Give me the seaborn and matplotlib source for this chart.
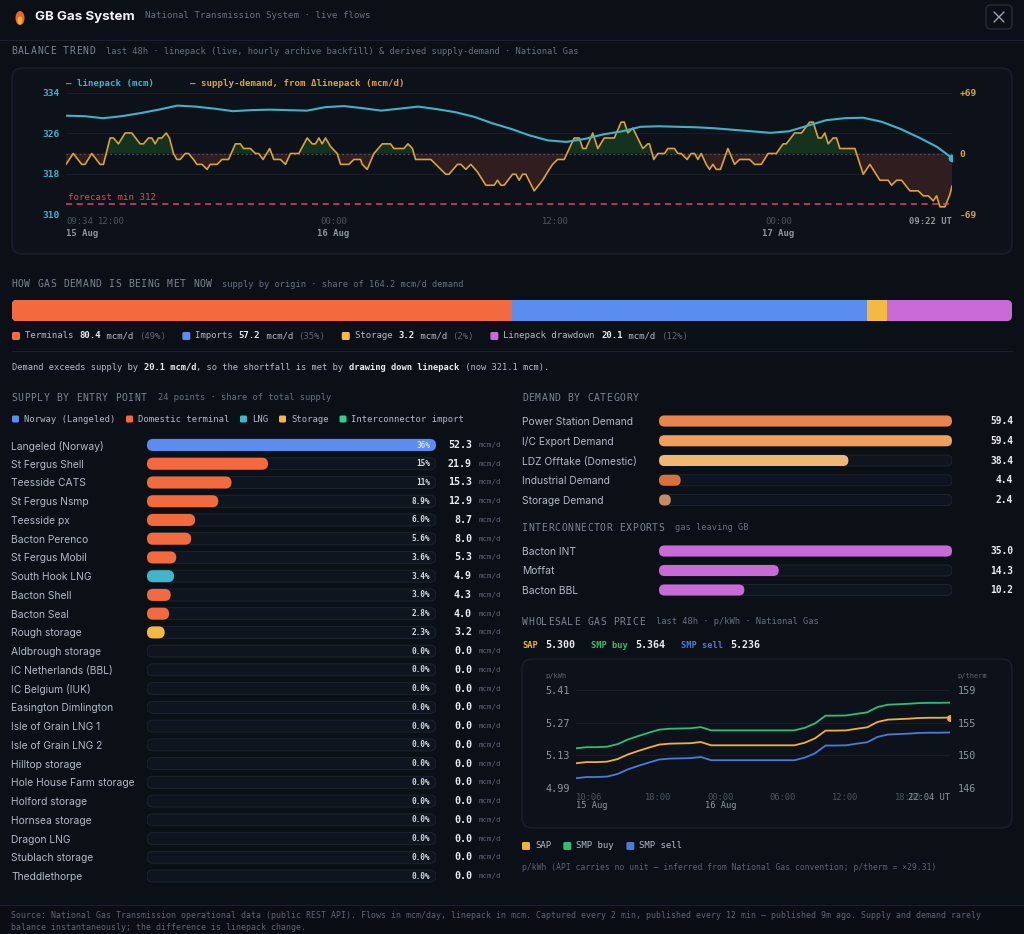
import numpy as np
import pandas as pd
import seaborn as sns
import matplotlib.pyplot as plt
import matplotlib.transforms as mtransforms
from matplotlib.patches import FancyBboxPatch, Rectangle, Ellipse
from matplotlib.lines import Line2D

# ---------------- data ----------------
# balance trend, hours after 09:34 15 Aug
lp_hours = [0, 1, 2, 3, 4, 5, 6, 7, 8, 9, 10, 11, 12, 13, 14, 15, 16, 17, 18, 19,
            20, 21, 22, 23, 24, 25, 26, 27, 28, 29, 30, 31, 32, 33, 34, 35, 36, 37, 38, 39,
            40, 41, 42, 43, 44, 45, 46, 47, 47.8]
linepack = [329.5, 329.4, 329.0, 329.4, 330.0, 330.7, 331.5, 331.3, 330.9, 330.4,
            330.6, 330.7, 330.6, 330.5, 331.2, 331.4, 331.0, 330.5, 330.9, 331.3,
            330.8, 330.2, 329.3, 328.0, 326.9, 325.6, 324.6, 324.3, 324.9, 325.8,
            326.4, 327.3, 327.4, 327.3, 327.2, 327.0, 326.7, 326.4, 326.1, 326.4,
            327.5, 328.6, 329.0, 329.1, 328.3, 326.9, 325.2, 323.3, 321.1]
sd_hours = [0.0, 0.39, 0.85, 1.03, 1.39, 1.84, 2.02, 2.38, 2.56, 2.83,
            3.19, 3.55, 4.0, 4.18, 4.45, 4.63, 4.81, 4.99, 5.17, 5.41,
            5.58, 5.8, 5.98, 6.16, 6.43, 6.61, 6.88, 7.06, 7.34, 7.61,
            7.78, 8.15, 8.42, 8.77, 9.14, 9.41, 9.58, 9.95, 10.22, 10.39,
            10.63, 10.99, 11.21, 11.57, 11.84, 12.11, 12.56, 13.01, 13.28, 13.46,
            13.64, 13.82, 14.0, 14.27, 14.63, 14.81, 15.26, 15.53, 15.89, 15.98,
            16.25, 16.61, 17.06, 17.51, 17.69, 18.23, 18.45, 18.69, 18.86, 19.68,
            19.95, 20.22, 20.49, 20.66, 21.12, 21.3, 21.57, 21.84, 22.2, 22.65,
            23.1, 23.28, 23.46, 23.64, 24.09, 24.27, 24.45, 24.63, 24.81, 25.26,
            25.71, 26.07, 26.25, 26.52, 26.88, 27.15, 27.42, 27.69, 27.88, 28.05,
            28.42, 28.69, 29.04, 29.58, 29.95, 30.12, 30.31, 30.58, 31.12, 31.39,
            31.48, 31.71, 31.93, 32.29, 32.47, 32.83, 33.01, 33.19, 33.51, 33.73,
            33.91, 34.09, 34.27, 34.54, 34.72, 34.9, 35.08, 35.31, 35.71, 36.07,
            36.34, 36.88, 37.15, 37.51, 37.88, 38.32, 38.69, 38.86, 39.31, 39.68,
            40.12, 40.31, 40.58, 40.76, 40.94, 41.12, 41.39, 41.57, 41.75, 42.56,
            43.01, 43.37, 43.91, 44.36, 44.54, 44.81, 45.08, 45.53, 45.98, 46.25,
            46.52, 46.79, 46.97, 47.15, 47.42, 47.69, 47.8]
sd_flow = [-12.4, 0, -12.4, -12.4, 0, -12.4, -12.4, 17.7, 17.7, 11,
           23.4, 23.4, 11, 11, 17.7, 17.7, 11, 17.7, 17.7, 23.4,
           17.7, 0, -6.8, -6.8, 0, 0, -6.8, -12.4, -12.4, -18.1,
           -12.4, -12.4, -6.8, -6.8, 11, 11, 5.7, 5.7, 0, 0,
           -6.8, 5.7, -6.8, -6.8, -12.4, 0, 0, 17.7, 11, 11,
           17.7, 11, 17.7, 8, 0, -12.4, -12.4, -6.8, -6.8, -12.4,
           -18.1, 0, 11, 11, 5.7, 5.7, 11, 5.7, -6.8, -6.8,
           -12.4, -18.1, -23.7, -23.7, -12.4, -12.4, -18.1, -12.4, -21, -36.2,
           -36.2, -30.5, -36.2, -36.2, -23.7, -23.7, -30.5, -23.7, -23.7, -42.6,
           -30.5, -18.1, -12.4, -6.8, -6.8, 5.7, 17.7, 17.7, 5.7, 5.7,
           23.4, 5.7, 17.7, 17.7, 35.8, 35.8, 23.4, 29, 5.7, 11,
           11, -6.8, 0, 0, 5.7, 5.7, 0, 0, -6.8, 0,
           0, -6.8, 0, -12.4, -18.1, -12.4, -18.1, -18.1, 5.7, -12.4,
           -6.8, -6.8, -12.4, -12.4, 0, 0, 11, 11, 23.4, 23.4,
           35.8, 35.8, 17.7, 17.7, 23.4, 11, 17.7, 17.7, 5.7, 5.7,
           -23.7, -12.4, -30.5, -30.5, -36.2, -30.5, -30.5, -42.6, -42.6, -48.3,
           -48.3, -54, -48.3, -60.8, -60.8, -46.6, -37]
forecast_min = 312
bal_tick_hours = [0, 2.43, 14.43, 26.43, 38.43, 47.8]
bal_tick_time = ["09:34", "12:00", "00:00", "12:00", "00:00", "09:22 UT"]
bal_tick_date = ["15 Aug", "", "16 Aug", "", "17 Aug", ""]

# how demand is being met
origin_names = ["Terminals", "Imports", "Storage", "Linepack drawdown"]
origin_flow = [80.4, 57.2, 3.2, 20.1]
origin_share = ["49%", "35%", "2%", "12%"]
demand_total = 164.2

# supply by entry point
entry_points = ["Langeled (Norway)", "St Fergus Shell", "Teesside CATS", "St Fergus Nsmp",
                "Teesside px", "Bacton Perenco", "St Fergus Mobil", "South Hook LNG",
                "Bacton Shell", "Bacton Seal", "Rough storage", "Aldbrough storage",
                "IC Netherlands (BBL)", "IC Belgium (IUK)", "Easington Dimlington",
                "Isle of Grain LNG 1", "Isle of Grain LNG 2", "Hilltop storage",
                "Hole House Farm storage", "Holford storage", "Hornsea storage",
                "Dragon LNG", "Stublach storage", "Theddlethorpe"]
entry_flow = [52.3, 21.9, 15.3, 12.9, 8.7, 8.0, 5.3, 4.9, 4.3, 4.0, 3.2, 0.0,
              0.0, 0.0, 0.0, 0.0, 0.0, 0.0, 0.0, 0.0, 0.0, 0.0, 0.0, 0.0]
entry_share = ["36%", "15%", "11%", "8.9%", "6.0%", "5.6%", "3.6%", "3.4%", "3.0%",
               "2.8%", "2.3%", "0.0%", "0.0%", "0.0%", "0.0%", "0.0%", "0.0%", "0.0%",
               "0.0%", "0.0%", "0.0%", "0.0%", "0.0%", "0.0%"]
entry_type = ["Norway (Langeled)", "Domestic terminal", "Domestic terminal", "Domestic terminal",
              "Domestic terminal", "Domestic terminal", "Domestic terminal", "LNG",
              "Domestic terminal", "Domestic terminal", "Storage", "Storage",
              "Interconnector import", "Interconnector import", "Domestic terminal",
              "LNG", "LNG", "Storage", "Storage", "Storage", "Storage", "LNG", "Storage",
              "Domestic terminal"]
supply_types = ["Norway (Langeled)", "Domestic terminal", "LNG", "Storage", "Interconnector import"]

# demand
demand_cats = ["Power Station Demand", "I/C Export Demand", "LDZ Offtake (Domestic)",
               "Industrial Demand", "Storage Demand"]
demand_flow = [59.4, 59.4, 38.4, 4.4, 2.4]
export_points = ["Bacton INT", "Moffat", "Bacton BBL"]
export_flow = [35.0, 14.3, 10.2]

# wholesale price, hours after 10:06 15 Aug
price_hours = [0, 1, 2, 3, 4, 5, 6, 7, 8, 9, 10, 11, 12, 13, 14, 15, 16, 17, 18, 19,
               20, 21, 22, 23, 24, 25, 26, 27, 28, 29, 30, 31, 32, 33, 34, 35, 35.97]
sap = [5.096, 5.101, 5.101, 5.103, 5.114, 5.134, 5.149, 5.163, 5.176, 5.180,
       5.181, 5.182, 5.187, 5.173, 5.173, 5.173, 5.173, 5.173, 5.173, 5.173,
       5.173, 5.173, 5.184, 5.203, 5.236, 5.236, 5.237, 5.244, 5.250, 5.273,
       5.283, 5.285, 5.287, 5.290, 5.291, 5.291, 5.292]
smp_buy = [5.160, 5.165, 5.165, 5.167, 5.178, 5.198, 5.213, 5.227, 5.240, 5.244,
           5.245, 5.246, 5.251, 5.237, 5.237, 5.237, 5.237, 5.237, 5.237, 5.237,
           5.237, 5.237, 5.248, 5.267, 5.300, 5.300, 5.301, 5.308, 5.314, 5.337,
           5.347, 5.349, 5.351, 5.354, 5.355, 5.355, 5.356]
smp_sell = [5.032, 5.037, 5.037, 5.039, 5.050, 5.070, 5.085, 5.099, 5.112, 5.116,
            5.117, 5.118, 5.123, 5.109, 5.109, 5.109, 5.109, 5.109, 5.109, 5.109,
            5.109, 5.109, 5.120, 5.139, 5.172, 5.172, 5.173, 5.180, 5.186, 5.209,
            5.219, 5.221, 5.223, 5.226, 5.227, 5.227, 5.228]
price_names = ["SAP", "SMP buy", "SMP sell"]
price_now = [5.300, 5.364, 5.236]
price_ticks = [4.99, 5.13, 5.27, 5.41]
price_therm_labels = ["146", "150", "155", "159"]
price_tick_hours = [0, 7.9, 13.9, 19.9, 25.9, 31.9, 35.97]
price_tick_time = ["10:06", "18:00", "00:00", "06:00", "12:00", "18:00", "22:04 UT"]
price_tick_date = ["15 Aug", "", "16 Aug", "", "", "", ""]

# ---------------- colours ----------------
BG = "#0b0f16"
CARD = "#0d121a"
CARD_EC = "#1d2531"
LINE = "#1a212c"
GRID = "#161d27"
TRACK = "#0f151e"
TRACK_EC = "#1b2430"
TXT = "#b3bbc6"
HEAD = "#7c8592"
SUB = "#687180"
DIM = "#5d6573"
DIMMER = "#4c5461"
DATE = "#8d95a1"
WHITE = "#e8ebef"
TEAL = "#3db3c9"
GOLD = "#d9a23a"
RED = "#d94a5c"
ORANGE = "#f26a3d"
BLUE = "#5b8def"
YELLOW = "#f4b942"
PURPLE = "#c96ad6"
type_colors = {"Norway (Langeled)": BLUE, "Domestic terminal": ORANGE, "LNG": "#3fb7c9",
               "Storage": YELLOW, "Interconnector import": "#2fd08a"}
origin_colors = [ORANGE, BLUE, YELLOW, PURPLE]
demand_colors = ["#ea844d", "#eea062", "#f1b873", "#da703b", "#c98b67"]
price_colors = ["#f0b03a", "#2dbf73", "#4b7bd6"]

sns.set_theme(style="dark")
plt.rcParams["font.family"] = ["DejaVu Sans Mono", "DejaVu Sans"]
SANS = ["Inter", "DejaVu Sans"]

W, H = 1024, 934
fig = plt.figure(figsize=(W / 100, H / 100), dpi=100, facecolor=BG)


def fx(x):
    return x / W


def fy(y):
    return 1 - y / H


def put(x, y, s, size=6.4, color=TXT, weight="normal", ha="left", family=None):
    kw = {"family": family} if family else {}
    return fig.text(fx(x), fy(y), s, size=size, color=color, weight=weight,
                    ha=ha, va="center", **kw)


def cw(size):
    # advance of one DejaVu Sans Mono glyph in pixels
    return 0.6021 * size * 100 / 72


def put_runs(x, y, parts, size=6.4):
    for s, color, weight in parts:
        put(x, y, s, size, color, weight)
        x += len(s) * cw(size)
    return x


def header(x, y, title, sub=None):
    step = 6.5
    for i, ch in enumerate(title):
        if ch != " ":
            put(x + i * step, y, ch, 7.0, HEAD)
    if sub:
        put(x + len(title) * step + 10, y, sub, 6.3, SUB)


def box(x0, y0, x1, y1, r, fc, ec="none", lw=0.8, z=-1):
    fig.add_artist(FancyBboxPatch((fx(x0), fy(y1)), fx(x1) - fx(x0), fy(y0) - fy(y1),
                                  boxstyle=f"round,pad=0,rounding_size={r / W}",
                                  mutation_aspect=W / H, transform=fig.transFigure,
                                  fc=fc, ec=ec, lw=lw, zorder=z))


def hline(x0, x1, y, color=LINE, lw=0.8):
    fig.add_artist(Line2D([fx(x0), fx(x1)], [fy(y), fy(y)], color=color, lw=lw,
                          transform=fig.transFigure, zorder=-1))


def swatch(x, y, color, s=8):
    box(x, y - s / 2, x + s, y + s / 2, 1.5, color, z=2)


def clean(ax):
    ax.set_facecolor("none")
    ax.grid(False)
    ax.set(xlabel="", ylabel="")
    for sp in ax.spines.values():
        sp.set_visible(False)


def bar_panel(x0, x1, first_row, row_px, bar_px, names, values, colors, xmax, pad_px):
    n = len(names)
    top = first_row - row_px / 2
    ax = fig.add_axes([fx(x0), fy(top + n * row_px), (x1 - x0) / W, n * row_px / H])
    df = pd.DataFrame({"name": names, "value": values})
    sns.barplot(data=df, x="value", y="name", hue="name", palette=colors, legend=False,
                width=bar_px / row_px, errorbar=None, saturation=1, linewidth=0, ax=ax)
    clean(ax)
    ax.set_xlim(0, xmax)
    ax.set_ylim(n - 0.5, -0.5)
    ax.set_xticks([])
    px_x = (x1 - x0) / xmax
    ma = px_x / row_px
    rad = bar_px / 2
    # seaborn draws square bars: swap them for pill shapes
    for p in [p for p in ax.patches if isinstance(p, Rectangle)]:
        bx, by, bw, bh = p.get_x(), p.get_y(), p.get_width(), p.get_height()
        fc = p.get_facecolor()
        p.remove()
        if bw <= 0:
            continue
        r = min(rad, bw * px_x / 2)
        ax.add_patch(FancyBboxPatch((bx, by), bw, bh,
                                    boxstyle=f"round,pad=0,rounding_size={r / px_x}",
                                    mutation_aspect=ma, fc=fc, ec="none", zorder=3))
    hh = bar_px / row_px
    for i in range(n):
        ax.add_patch(FancyBboxPatch((0, i - hh / 2), xmax, hh,
                                    boxstyle=f"round,pad=0,rounding_size={rad / px_x}",
                                    mutation_aspect=ma, fc=TRACK, ec=TRACK_EC, lw=0.7,
                                    zorder=1))
    ax.tick_params(axis="y", length=0, pad=pad_px * 0.72, labelsize=7.4, labelcolor=TXT)
    for t in ax.get_yticklabels():
        t.set_ha("left")
        t.set_fontfamily(SANS)
    return ax


# ---------------- title bar ----------------
fig.add_artist(Ellipse((fx(20), fy(18)), 9 / W, 14 / H, fc="#f0632f", ec="none",
                       transform=fig.transFigure))
fig.add_artist(Ellipse((fx(20), fy(20.5)), 5 / W, 8 / H, fc="#f9b233", ec="none",
                       transform=fig.transFigure))
put(35, 17, "GB Gas System", 9.6, "#f2f4f7", "bold", family=SANS)
put(145, 16, "National Transmission System · live flows", 6.6, SUB)
box(986, 5, 1012, 29, 5, "none", "#2a3442")
fig.add_artist(Line2D([fx(994), fx(1004)], [fy(12), fy(22)], color="#9aa4b0", lw=1,
                      transform=fig.transFigure))
fig.add_artist(Line2D([fx(994), fx(1004)], [fy(22), fy(12)], color="#9aa4b0", lw=1,
                      transform=fig.transFigure))
hline(0, 1024, 40)

# ---------------- balance trend ----------------
header(11, 51, "BALANCE TREND",
       "last 48h · linepack (live, hourly archive backfill) & derived supply-demand · National Gas")
box(12, 68, 1012, 254, 10, CARD, CARD_EC)

ax_sd = fig.add_axes([fx(66), fy(214), (952 - 66) / W, (214 - 93) / H])
sd = pd.DataFrame({"hours": sd_hours, "flow": sd_flow})
for v in (-69, -23, 23, 69):
    ax_sd.axhline(v, color=GRID, lw=0.8, zorder=0)
ax_sd.fill_between(sd.hours, sd.flow, 0, where=sd.flow >= 0, interpolate=True,
                   color="#15321f", lw=0, zorder=1)
ax_sd.fill_between(sd.hours, sd.flow, 0, where=sd.flow <= 0, interpolate=True,
                   color="#2f1d1f", lw=0, zorder=1)
sns.lineplot(data=sd, x="hours", y="flow", ax=ax_sd, color=GOLD, lw=1.2,
             estimator=None, zorder=3)
ax_sd.axhline(0, color="#4a505b", lw=0.9, ls=(0, (1.5, 2)), zorder=2)
clean(ax_sd)
ax_sd.set_xlim(0, 47.8)
ax_sd.set_ylim(-69, 69)
ax_sd.set_xticks([])

ax_lp = ax_sd.twinx()
sns.lineplot(x=lp_hours, y=linepack, ax=ax_lp, color=TEAL, lw=1.5, estimator=None)
ax_lp.plot(lp_hours[-1], linepack[-1], "o", ms=4.5, color=TEAL)
ax_lp.axhline(forecast_min, color=RED, lw=1.1, ls=(0, (4, 3)))
ax_lp.text(0.1, forecast_min + 1.2, f"forecast min {forecast_min}", color=RED,
           size=6.6, va="center")
clean(ax_lp)
ax_lp.set_ylim(310, 334)
ax_lp.set_yticks([310, 318, 326, 334])
ax_lp.yaxis.tick_left()
ax_lp.tick_params(axis="y", length=0, pad=4.5, labelsize=6.8, labelcolor=TEAL)
for t in ax_lp.get_yticklabels():
    t.set_fontweight("bold")

# twinx moved the base axis ticks to the left, put supply-demand back on the right
ax_sd.yaxis.tick_right()
ax_sd.set_yticks([-69, 0, 69], ["-69", "0", "+69"])
ax_sd.tick_params(axis="y", length=0, pad=5.5, labelsize=6.8, labelcolor=GOLD)
for t in ax_sd.get_yticklabels():
    t.set_fontweight("bold")

tr = mtransforms.blended_transform_factory(ax_sd.transData, fig.transFigure)
for i, (h, t, d) in enumerate(zip(bal_tick_hours, bal_tick_time, bal_tick_date)):
    ha = "left" if i == 0 else ("right" if i == len(bal_tick_hours) - 1 else "center")
    last = i == len(bal_tick_hours) - 1
    ax_sd.text(h, fy(222), t, transform=tr, ha=ha, va="center", size=6.4,
               color=DATE if last else DIMMER, weight="bold" if last else "normal",
               clip_on=False)
    if d:
        ax_sd.text(h, fy(233), d, transform=tr, ha=ha, va="center", size=6.4,
                   color=DATE, weight="bold", clip_on=False)

put(66, 83, "– linepack (mcm)", 6.6, TEAL, "bold")
put(190, 83, "– supply-demand, from Δlinepack (mcm/d)", 6.6, GOLD, "bold")

# ---------------- how demand is being met ----------------
header(11, 284, "HOW GAS DEMAND IS BEING MET NOW",
       f"supply by origin · share of {demand_total} mcm/d demand")
ax_mix = fig.add_axes([fx(12), fy(321), 1000 / W, 21 / H])
mix = pd.DataFrame({"origin": origin_names, "flow": origin_flow})
mix["cum"] = mix["flow"].cumsum()
mix["row"] = "now"
total = mix["flow"].sum()
sns.barplot(data=mix, x="cum", y="row", hue="origin", hue_order=origin_names[::-1],
            palette=dict(zip(origin_names, origin_colors)), dodge=False, width=1.0,
            errorbar=None, legend=False, saturation=1, linewidth=0, ax=ax_mix)
clean(ax_mix)
ax_mix.set_xlim(0, total)
ax_mix.set_ylim(0.5, -0.5)
ax_mix.set_xticks([])
ax_mix.set_yticks([])
clip = FancyBboxPatch((0, -0.5), total, 1.0,
                      boxstyle=f"round,pad=0,rounding_size={5 * total / 1000}",
                      mutation_aspect=(1 / 21) / (total / 1000),
                      transform=ax_mix.transData, fc="none", ec="none")
for p in ax_mix.patches:
    p.set_edgecolor("none")
    p.set_clip_path(clip)

x = 12
for name, flow, share, col in zip(origin_names, origin_flow, origin_share, origin_colors):
    swatch(x, 336, col)
    x = put_runs(x + 13, 336, [(f"{name} ", TXT, "normal"), (f"{flow:.1f}", WHITE, "bold"),
                               (" mcm/d ", TXT, "normal"), (f"({share})", DIM, "normal")],
                 6.5) + 16

hline(12, 1012, 351)
put_runs(12, 367, [("Demand exceeds supply by ", TXT, "normal"),
                   (f"{origin_flow[3]:.1f} mcm/d", WHITE, "bold"),
                   (", so the shortfall is met by ", TXT, "normal"),
                   ("drawing down linepack", WHITE, "bold"),
                   (f" (now {linepack[-1]:.1f} mcm).", TXT, "normal")], 6.3)

# ---------------- supply by entry point ----------------
header(11, 398, "SUPPLY BY ENTRY POINT", f"{len(entry_points)} points · share of total supply")
x = 12
for st in supply_types:
    swatch(x, 419, type_colors[st], 7)
    put(x + 12, 419, st, 6.4, TXT)
    x += 12 + len(st) * cw(6.4) + 11

ax_sup = bar_panel(147, 436, 445, 18.74, 12, entry_points, entry_flow,
                   [type_colors[t] for t in entry_type], max(entry_flow), 136)
trs = mtransforms.blended_transform_factory(ax_sup.transAxes, ax_sup.transData)
for i, (v, s) in enumerate(zip(entry_flow, entry_share)):
    ax_sup.text(1 - 6 / 289, i, s, transform=trs, ha="right", va="center", size=5.6,
                weight="bold", color="#d5dae1", zorder=5)
    ax_sup.text((472 - 147) / 289, i, f"{v:.1f}", transform=trs, ha="right", va="center",
                size=7.2, weight="bold", color=WHITE, clip_on=False)
    ax_sup.text((479 - 147) / 289, i, "mcm/d", transform=trs, ha="left", va="center",
                size=5.3, color=DIM, clip_on=False)

# ---------------- demand by category ----------------
header(522, 398, "DEMAND BY CATEGORY")
ax_dem = bar_panel(659, 952, 421, 19.75, 11, demand_cats, demand_flow, demand_colors,
                   max(demand_flow), 137)
trd = mtransforms.blended_transform_factory(ax_dem.transAxes, ax_dem.transData)
for i, v in enumerate(demand_flow):
    ax_dem.text((1013 - 659) / 293, i, f"{v:.1f}", transform=trd, ha="right", va="center",
                size=6.9, weight="bold", color=WHITE, clip_on=False)

header(522, 528, "INTERCONNECTOR EXPORTS", "gas leaving GB")
ax_exp = bar_panel(659, 952, 551, 19.5, 11, export_points, export_flow,
                   [PURPLE] * len(export_points), max(export_flow), 137)
tre = mtransforms.blended_transform_factory(ax_exp.transAxes, ax_exp.transData)
for i, v in enumerate(export_flow):
    ax_exp.text((1013 - 659) / 293, i, f"{v:.1f}", transform=tre, ha="right", va="center",
                size=6.9, weight="bold", color=WHITE, clip_on=False)

# ---------------- wholesale price ----------------
header(522, 622, "WHOLESALE GAS PRICE", "last 48h · p/kWh · National Gas")
x = 522
for name, v, col in zip(price_names, price_now, price_colors):
    put(x, 645, name, 6.3, col, "bold")
    x += len(name) * cw(6.3) + 7
    put(x, 645, f"{v:.3f}", 7.2, WHITE, "bold")
    x += 5 * cw(7.2) + 16

box(522, 659, 1012, 828, 10, CARD, CARD_EC)
ax_p = fig.add_axes([fx(576), fy(788), (950 - 576) / W, (788 - 690) / H])
pr = pd.DataFrame({"hours": price_hours, "SAP": sap, "SMP buy": smp_buy,
                   "SMP sell": smp_sell}).melt("hours", var_name="series", value_name="price")
for v in price_ticks:
    ax_p.axhline(v, color=GRID, lw=0.8, zorder=0)
sns.lineplot(data=pr, x="hours", y="price", hue="series", hue_order=price_names,
             palette=dict(zip(price_names, price_colors)), lw=1.3, legend=False,
             estimator=None, ax=ax_p)
ax_p.plot(price_hours[-1], sap[-1], "o", ms=4, color=price_colors[0])
clean(ax_p)
ax_p.set_xlim(0, price_hours[-1])
ax_p.set_ylim(price_ticks[0], price_ticks[-1])
ax_p.set_xticks([])
ax_p.set_yticks(price_ticks, [f"{v:.2f}" for v in price_ticks])
ax_p.tick_params(axis="y", length=0, pad=4.5, labelsize=7.3, labelcolor=DATE)
ax_pr = ax_p.twinx()
clean(ax_pr)
ax_pr.set_ylim(price_ticks[0], price_ticks[-1])
ax_pr.set_yticks(price_ticks, price_therm_labels)
ax_pr.tick_params(axis="y", length=0, pad=5.5, labelsize=7.3, labelcolor=DATE)
put(545, 676, "p/kWh", 5.0, DIM)
put(957, 676, "p/therm", 5.0, DIM)

trp = mtransforms.blended_transform_factory(ax_p.transData, fig.transFigure)
for i, (h, t, d) in enumerate(zip(price_tick_hours, price_tick_time, price_tick_date)):
    ha = "left" if i == 0 else ("right" if i == len(price_tick_hours) - 1 else "center")
    last = i == len(price_tick_hours) - 1
    ax_p.text(h, fy(797), t, transform=trp, ha=ha, va="center", size=6.3,
              color=DATE if last else DIMMER, clip_on=False)
    if d:
        ax_p.text(h, fy(806), d, transform=trp, ha=ha, va="center", size=6.3,
                  color=DATE, clip_on=False)

x = 522
for name, col in zip(price_names, price_colors):
    swatch(x, 846, col)
    put(x + 13, 846, name, 6.5, TXT)
    x += 13 + len(name) * cw(6.5) + 12
put(522, 867, "p/kWh (API carries no unit — inferred from National Gas convention; "
              "p/therm = ×29.31)", 5.8, DIM)

# ---------------- footer ----------------
fig.add_artist(Rectangle((0, 0), 1, fy(905), transform=fig.transFigure, fc="#0a0d13",
                         ec="none", zorder=-2))
hline(0, 1024, 905)
put(11, 916, "Source: National Gas Transmission operational data (public REST API). Flows in "
             "mcm/day, linepack in mcm. Captured every 2 min, published every 12 min — "
             "published 9m ago. Supply and demand rarely", 5.95, DIM)
put(11, 927, "balance instantaneously; the difference is linepack change.", 5.95, DIM)

fig.savefig("out.png", dpi=100, facecolor=BG)
